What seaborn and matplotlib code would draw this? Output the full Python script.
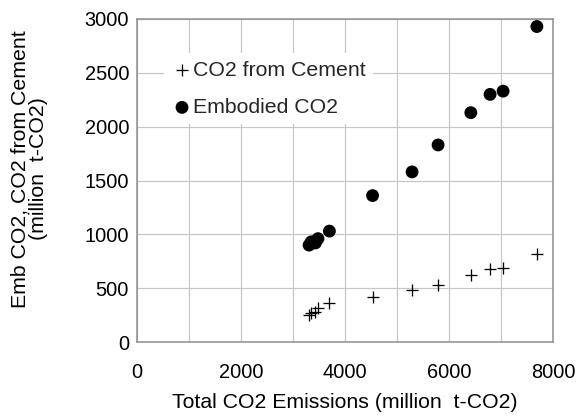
import matplotlib
matplotlib.use("Agg")
import matplotlib.pyplot as plt
import seaborn as sns
import pandas as pd

total_co2 = [3310, 3350, 3430, 3480, 3700, 4530, 5290, 5790, 6420, 6790, 7040, 7690]
cement_co2 = [250, 265, 280, 320, 360, 420, 480, 530, 620, 680, 690, 820]
embodied_co2 = [900, 930, 920, 960, 1030, 1360, 1580, 1830, 2130, 2300, 2330, 2930]

x_ticks = [0, 2000, 4000, 6000, 8000]
y_ticks = [0, 500, 1000, 1500, 2000, 2500, 3000]

sns.set_theme(style="white")
plt.rcParams['font.family'] = ['Liberation Sans', 'DejaVu Sans']

df_c = pd.DataFrame({"x": total_co2, "y": cement_co2})
df_e = pd.DataFrame({"x": total_co2, "y": embodied_co2})

fig = plt.figure(figsize=(8, 416/72), dpi=72)
ax = fig.add_axes([137/576, 1 - 342/416, (553-137)/576, (342-19)/416])

sns.scatterplot(data=df_c, x="x", y="y", ax=ax, marker="+", s=150, color="black",
                linewidth=1.3, label="CO2 from Cement", zorder=3)
sns.scatterplot(data=df_e, x="x", y="y", ax=ax, marker="o", s=165, color="black",
                edgecolor="none", label="Embodied CO2", zorder=3)

FS = 21.3
ax.set_xlim(0, 8000)
ax.set_ylim(0, 3000)
ax.set_xticks(range(0, 8001, 1000))
ax.set_xticklabels([str(v) if v in x_ticks else "" for v in range(0, 8001, 1000)])
ax.set_yticks(y_ticks)
ax.set_yticklabels([str(v) for v in y_ticks])
ax.tick_params(axis="x", length=0, labelsize=20, colors="black", pad=21)
ax.tick_params(axis="y", length=0, labelsize=20, colors="black", pad=8)
ax.grid(True, color="#c6c6c6", linewidth=1.2)
ax.set_axisbelow(True)
for s in ax.spines.values():
    s.set_color("#8c8c8c")
    s.set_linewidth(1.5)

ax.set_xlabel("Total CO2 Emissions (million  t-CO2)", fontsize=FS, color="black", labelpad=11)
ax.set_ylabel("Emb CO2, CO2 from Cement\n(million  t-CO2)", fontsize=FS, color="black",
              linespacing=0.92)
ax.yaxis.set_label_coords(-0.215, 0.5355)

leg = ax.legend(loc="upper left", bbox_to_anchor=(0.0647, 0.8935), frameon=True,
                fontsize=FS, handletextpad=0.0, borderpad=0.35, labelspacing=0.85,
                handlelength=1.0, borderaxespad=0)
leg.get_frame().set_facecolor("white")
leg.get_frame().set_edgecolor("none")
leg.get_frame().set_alpha(1)
leg.get_frame().set_boxstyle("square", pad=0)

fig.savefig("out.png", dpi=72)
